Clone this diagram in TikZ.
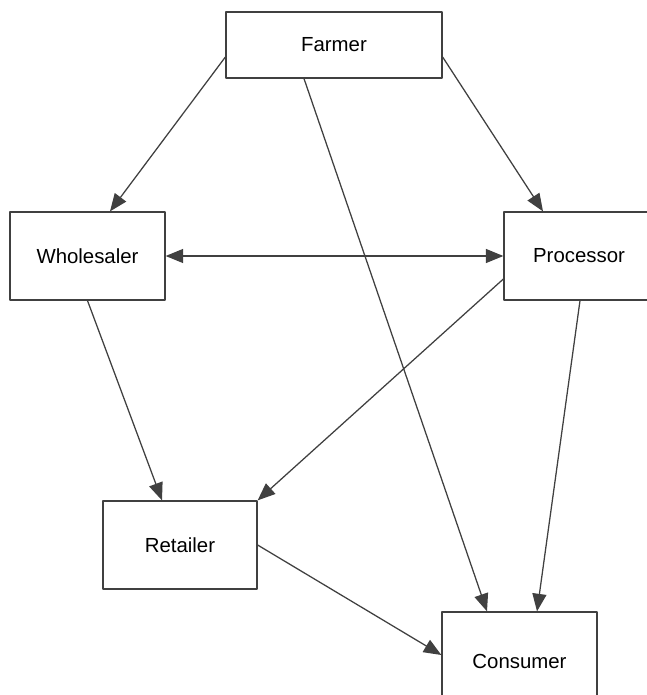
\documentclass[tikz,border=0pt]{standalone}
\usepackage{fontspec}
\setmainfont{Liberation Sans}
\usetikzlibrary{arrows.meta,calc}
\begin{document}
\begin{tikzpicture}[line join=round, >={Triangle[length=12.5pt,width=10pt]}, x=0.025cm, y=-0.025cm, line width=0.9pt]
    \useasboundingbox (0,0) rectangle (646,695);
    \tikzset{box/.style={draw=black!75, fill=white, font=\fontsize{14.5}{17}\selectfont, inner sep=0pt}}
    \node[box, minimum width=216*0.025cm, minimum height=66*0.025cm] (farmer) at (334,45) {Farmer};
    \node[box, minimum width=155*0.025cm, minimum height=88*0.025cm] (wholesaler) at (87.5,256) {Wholesaler};
    \node[box, minimum width=150*0.025cm, minimum height=88*0.025cm] (processor) at (579,256) {Processor};
    \node[box, minimum width=154*0.025cm, minimum height=88*0.025cm] (retailer) at (180,545) {Retailer};
    \node[box, minimum width=155*0.025cm, minimum height=98*0.025cm] (consumer) at (519.5,661) {Consumer};
    \draw[->, black!75] ($(farmer.west)+(0,12)$) -- ($(wholesaler.north)+(22.5,0)$);
    \draw[->, black!75] ($(farmer.east)+(0,12)$) -- ($(processor.north)+(-36,0)$);
    \draw[->, black!75] ($(farmer.south)+(-30,0)$) -- ($(consumer.north)+(-32.5,0)$);
    \draw[<->, black!75] (wholesaler.east) -- (processor.west);
    \draw[->, black!75] ($(processor.west)+(0,23)$) -- (retailer.north east);
    \draw[->, black!75] ($(processor.south)+(1,0)$) -- ($(consumer.north)+(17.5,0)$);
    \draw[->, black!75] (wholesaler.south) -- ($(retailer.north)+(-18,0)$);
    \draw[->, black!75] (retailer.east) -- ($(consumer.west)+(0,-6)$);
\end{tikzpicture}
\end{document}
